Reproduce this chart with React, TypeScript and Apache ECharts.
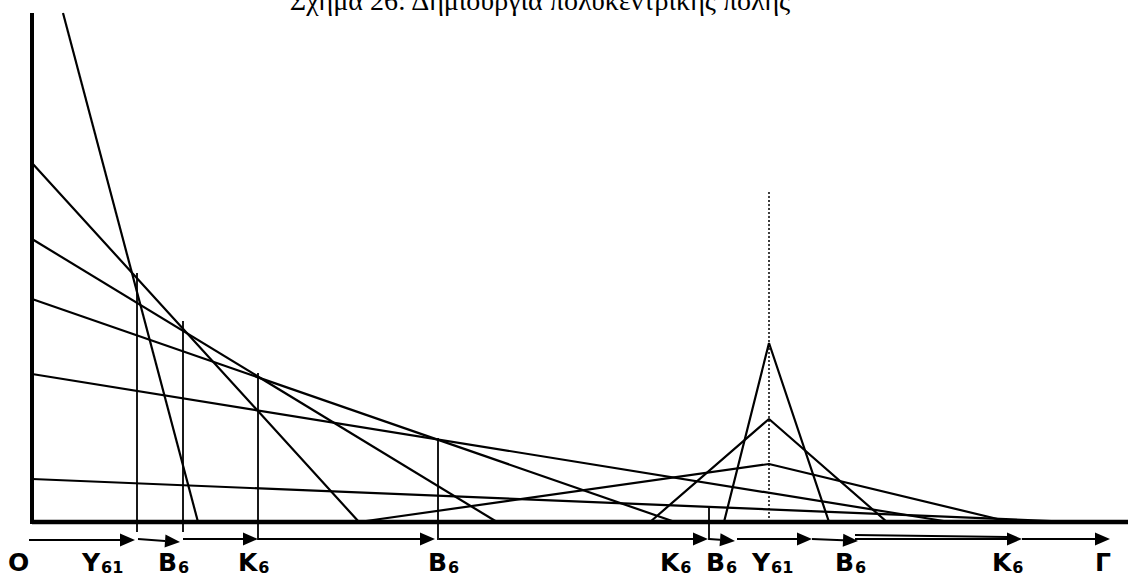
import React, { useEffect, useRef } from "react";
import * as echarts from "echarts";

// Schematic: distance units measured from the origin O (x to the right, y upward)
const TITLE = "Σχήμα 26: Δημιουργία πολυκεντρικής πόλης";

const axisVertical = [[0, 509], [0, -2]];
const axisHorizontal = [[0, 0], [1096, 0]];

const steepGradient = [[31, 509], [166, 0]];
const gradientA = [[0, 359], [327, 0], [737, 58], [978, 0]];
const gradientB = [[0, 283], [465, 0]];
const gradientC = [[0, 223], [643, 0]];
const gradientD = [[0, 148], [918, 0]];
const gradientE = [[0, 43], [1043, 0]];
const peakMiddle = [[618, 0], [737, 103], [855, 0]];
const peakHigh = [[692, 0], [737, 179], [797, 0]];
const centreMarker = [[737, 330], [737, 0]];

// vertical dividers: x, top, bottom
const dividerX = [105, 151, 226, 406, 677];
const dividerTop = [249, 201, 149, 84, 15];
const dividerBottom = [-10, -10, -18, -18, -18];

// arrows along the distance line: x1, y1, x2, y2
const arrowSegments = [
  [-3, -18, 103, -18],
  [106, -17, 148, -20],
  [151, -17, 226, -17],
  [226, -17, 403, -17],
  [407, -17, 676, -17],
  [677, -17, 703, -19],
  [705, -17, 780, -17],
  [780, -17, 826, -19],
  [823, -17, 990, -17],
  [990, -17, 1078, -17],
];
const extraSegment = [[823, -13], [976, -15]];

const labelMain = ["O", "Y", "B", "K", "B", "K", "B", "Y", "B", "K", "Γ"];
const labelSub = ["", "61", "6", "6", "6", "6", "6", "61", "6", "6", ""];
const labelX = [-24, 50, 126, 206, 396, 628, 674, 720, 803, 960, 1063];
const labelY = -53;

function lineSeries(data: number[][], width: number, dashed = false) {
  return {
    type: "line",
    data,
    symbol: "none",
    silent: true,
    clip: false,
    lineStyle: { color: "#000", width, type: dashed ? [2, 2] : "solid", cap: "butt" },
  };
}

export default function App() {
  const ref = useRef<HTMLDivElement>(null);
  useEffect(() => {
    if (!ref.current) return;
    const chart = echarts.init(ref.current, undefined, { renderer: "svg" });
    const dividerData = dividerX.map((x, i) => [x, dividerTop[i], dividerBottom[i]]);
    const labelData = labelX.map((x, i) => [x, labelY, i]);
    const option: any = {
      animation: false,
      grid: { left: 0, right: 0, top: 0, bottom: 0 },
      xAxis: { type: "value", min: -32, max: 1096, show: false },
      yAxis: { type: "value", min: -57, max: 522, show: false },
      graphic: [
        {
          type: "text",
          x: 540,
          y: 0,
          style: {
            text: TITLE,
            fontFamily: "Liberation Serif",
            fontSize: 28,
            fill: "#000",
            align: "center",
            textAlign: "center",
            verticalAlign: "middle",
            textVerticalAlign: "middle",
          },
        },
      ],
      series: [
        lineSeries(axisVertical, 4),
        lineSeries(axisHorizontal, 4.5),
        lineSeries(steepGradient, 2.2),
        lineSeries(gradientA, 2.2),
        lineSeries(gradientB, 2.2),
        lineSeries(gradientC, 2.2),
        lineSeries(gradientD, 2.2),
        lineSeries(gradientE, 2.2),
        lineSeries(peakMiddle, 2.2),
        lineSeries(peakHigh, 2.2),
        lineSeries(centreMarker, 1.5, true),
        lineSeries(extraSegment, 2),
        {
          type: "custom",
          silent: true,
          data: dividerData,
          encode: { x: 0, y: [1, 2] },
          renderItem: (_p: any, api: any) => {
            const a = api.coord([api.value(0), api.value(1)]);
            const b = api.coord([api.value(0), api.value(2)]);
            return {
              type: "line",
              shape: { x1: a[0], y1: a[1], x2: b[0], y2: b[1] },
              style: { stroke: "#000", lineWidth: 1.8 },
            };
          },
        },
        {
          type: "custom",
          silent: true,
          data: arrowSegments,
          encode: { x: [0, 2], y: [1, 3] },
          renderItem: (_p: any, api: any) => {
            const a = api.coord([api.value(0), api.value(1)]);
            const b = api.coord([api.value(2), api.value(3)]);
            const dx = b[0] - a[0];
            const dy = b[1] - a[1];
            const len = Math.sqrt(dx * dx + dy * dy);
            const ux = dx / len;
            const uy = dy / len;
            const head = 15;
            const half = 6.5;
            const bx = b[0] - ux * head;
            const by = b[1] - uy * head;
            return {
              type: "group",
              children: [
                {
                  type: "line",
                  shape: { x1: a[0], y1: a[1], x2: bx, y2: by },
                  style: { stroke: "#000", lineWidth: 2 },
                },
                {
                  type: "polygon",
                  shape: {
                    points: [
                      [b[0], b[1]],
                      [bx - uy * half, by + ux * half],
                      [bx + uy * half, by - ux * half],
                    ],
                  },
                  style: { fill: "#000" },
                },
              ],
            };
          },
        },
        {
          type: "custom",
          silent: true,
          data: labelData,
          encode: { x: 0, y: 1 },
          renderItem: (_p: any, api: any) => {
            const p = api.coord([api.value(0), api.value(1)]);
            const i = api.value(2);
            const sub = labelSub[i];
            const text = sub ? `{m|${labelMain[i]}}{s|${sub}}` : `{m|${labelMain[i]}}`;
            return {
              type: "text",
              x: p[0],
              y: p[1],
              style: {
                text,
                align: "left",
                verticalAlign: "bottom",
                fill: "#000",
                rich: {
                  m: {
                    fontFamily: "DejaVu Sans",
                    fontWeight: "bold",
                    fontSize: 25,
                    lineHeight: 28,
                    verticalAlign: "bottom",
                    fill: "#000",
                  },
                  s: {
                    fontFamily: "DejaVu Sans",
                    fontWeight: "bold",
                    fontSize: 16,
                    lineHeight: 28,
                    verticalAlign: "bottom",
                    fill: "#000",
                    padding: [0, 0, 0, 1],
                  },
                },
              },
            };
          },
        },
      ],
    };
    chart.setOption(option);
    return () => chart.dispose();
  }, []);
  return (
    <div
      ref={ref}
      style={{ position: "fixed", left: 0, top: 0, width: 1128, height: 579, background: "#fff" }}
    />
  );
}
